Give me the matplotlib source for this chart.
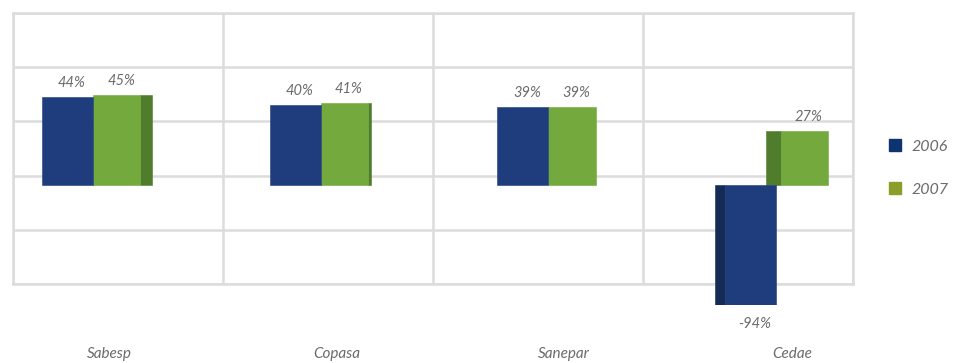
import matplotlib
matplotlib.use("Agg")
import matplotlib.pyplot as plt
from matplotlib.patches import Patch
import numpy as np

# data
categories = ["Sabesp", "Copasa", "Sanepar", "Cedae"]
series = ["2006", "2007"]
v2006 = [44, 40, 39, -94]
v2007 = [45, 41, 39, 27]
labels2006 = ["44%", "40%", "39%", "-94%"]
labels2007 = ["45%", "41%", "39%", "27%"]

# style
blue, blue_dark = "#1f3d7c", "#142a57"
green, green_dark = "#74a93e", "#4f7d2b"
leg_blue, leg_green = "#0e3470", "#8a9e2a"
grid_c = "#dcdcdc"
txt_c = "#6b6b6b"
side = [0.052, 0.012, 0.0, -0.066]   # pseudo 3d side faces
plt.rcParams['font.family'] = ['Lato', 'DejaVu Sans']

W, H = 954, 363
fig = plt.figure(figsize=(W / 100, H / 100), dpi=100)

def px_axes(x0, y0, x1, y1, **kw):
    return fig.add_axes([x0 / W, 1 - y1 / H, (x1 - x0) / W, (y1 - y0) / H], **kw)

# back wall grid
wall = px_axes(13, 13, 853, 284)
wall.set_xlim(0, 4)
wall.set_ylim(0, 5)
wall.set_xticks(range(5))
wall.set_yticks(range(6))
wall.grid(True, color=grid_c, lw=1.8)
wall.tick_params(length=0, labelbottom=False, labelleft=False)
for s in wall.spines.values():
    s.set_color(grid_c)
    s.set_linewidth(1.8)

# bars
ax = px_axes(13, 0, 853, 305)
ax.patch.set_alpha(0)
x = np.arange(len(categories))
w = 0.224
gw = 0.93 * w
ax.set_xlim(-0.3513, 3.3377)
ax.set_ylim(-60, 92.5)

sd = np.array(side)
d = np.where(sd < 0, -sd * 0.3, 0)
gx = x + d                     # left edge of green front

def bar(left, height, width, color, z):
    ax.bar(left, height, width=width, align="edge", color=color,
           edgecolor=color, lw=0.4, zorder=z)

for i in range(len(categories)):
    s = side[i]
    if s > 0:
        bar(gx[i] + gw, v2007[i], s, green_dark, 2)
    elif s < 0:
        bar(gx[i] + s, v2007[i], -s, green_dark, 2)
        bar(x[i] - w + s * 0.7, v2006[i], -s * 0.7, blue_dark, 2)

bar(x - w, v2006, w, blue, 4)
bar(gx, v2007, gw, green, 3)

lo = ax.get_ylim()[0]
for i in range(len(categories)):
    for xv, v, lab in [(x[i] - w / 2, v2006[i], labels2006[i]),
                       (gx[i] + gw / 2, v2007[i], labels2007[i])]:
        if v >= 0:
            ax.annotate(lab, (xv + 0.02, v), xytext=(0, 5), textcoords="offset points",
                        ha="center", va="bottom", style="italic", fontsize=10.5,
                        color=txt_c, annotation_clip=False)
        else:
            ax.annotate(lab, (xv + 0.02, max(v, lo)), xytext=(0, -9), textcoords="offset points",
                        ha="center", va="top", style="italic", fontsize=10.5,
                        color=txt_c, annotation_clip=False)

ax.set_xticks(x + 0.07, categories, style="italic", fontsize=11, color=txt_c)
ax.tick_params(axis="x", length=0, pad=30)
ax.set_yticks([])
for s in ax.spines.values():
    s.set_visible(False)

handles = [Patch(color=leg_blue), Patch(color=leg_green)]
fig.legend(handles, series, loc="center left", bbox_to_anchor=(875 / W, 1 - 168 / H),
           frameon=False, handlelength=0.7, handleheight=0.7, handletextpad=0.7,
           labelspacing=1.8, prop={"style": "italic", "size": 11.5}, labelcolor=txt_c)

fig.savefig("out.png", dpi=100)
